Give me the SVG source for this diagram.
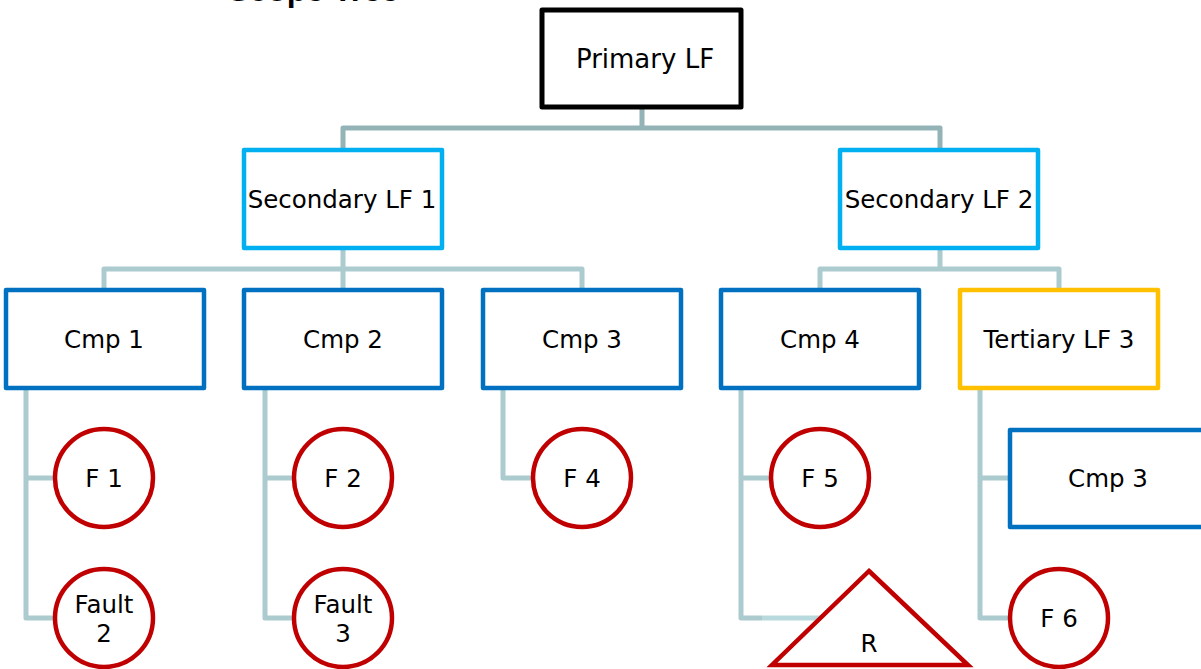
<svg xmlns="http://www.w3.org/2000/svg" width="1201" height="669" viewBox="0 0 1201 669">
  <style>
    .lbl { font-family: "DejaVu Sans", Verdana, sans-serif; font-size: 24.5px; fill: #000; text-anchor: middle; }
    .title { font-family: "Liberation Sans", Arial, sans-serif; font-size: 32px; font-weight: bold; fill: #000; }
    .box { fill: #fff; stroke-width: 4.5; stroke-linejoin: round; }
    .top { stroke: #000; stroke-width: 5; }
    .sec { stroke: #00b0f0; }
    .cmp { stroke: #0070c0; }
    .ter { stroke: #ffc000; }
    .fault { fill: #fff; stroke: #c00000; stroke-width: 4.5; }
    .l1 { fill: none; stroke: #94b3b6; stroke-width: 5; stroke-linejoin: round; }
    .l2 { fill: none; stroke: #accbcf; stroke-width: 5; stroke-linejoin: round; }
  </style>

  <text class="title" x="228" y="1">Scope Tree</text>

  <g id="connectors">
    <path class="l1" d="M642,107 V128 M343,150 V128 H940 V150"/>
    <path class="l2" d="M343,248 V269 M104,290 V269 H582 V290 M343,269 V290"/>
    <path class="l2" d="M940,248 V269 M820,290 V269 H1059 V290"/>
    <path class="l2" d="M26,388 V618 H56 M26,478 H56"/>
    <path class="l2" d="M265,388 V618 H295 M265,478 H295"/>
    <path class="l2" d="M503,388 V478 H533"/>
    <path class="l2" d="M741,388 V618 H762 M741,478 H771"/>
    <path d="M762,618 H820" fill="none" stroke="#b8dadf" stroke-width="5"/>
    <path class="l2" d="M980,388 V618 H1010 M980,478 H1010"/>
  </g>

  <g id="primary-lf">
    <rect class="box top" x="542" y="10" width="199" height="97"/>
    <text class="lbl" x="645" y="68" style="font-size:26px">Primary LF</text>
  </g>

  <g id="secondary-lf-1">
    <rect class="box sec" x="244" y="150" width="198" height="98"/>
    <text class="lbl" x="342" y="208">Secondary LF 1</text>
  </g>
  <g id="secondary-lf-2">
    <rect class="box sec" x="840" y="150" width="198" height="98"/>
    <text class="lbl" x="939" y="208">Secondary LF 2</text>
  </g>

  <g id="cmp-1">
    <rect class="box cmp" x="6" y="290" width="198" height="98"/>
    <text class="lbl" x="104" y="348">Cmp 1</text>
  </g>
  <g id="cmp-2">
    <rect class="box cmp" x="244" y="290" width="198" height="98"/>
    <text class="lbl" x="343" y="348">Cmp 2</text>
  </g>
  <g id="cmp-3">
    <rect class="box cmp" x="483" y="290" width="198" height="98"/>
    <text class="lbl" x="582" y="348">Cmp 3</text>
  </g>
  <g id="cmp-4">
    <rect class="box cmp" x="721" y="290" width="198" height="98"/>
    <text class="lbl" x="820" y="348">Cmp 4</text>
  </g>
  <g id="tertiary-lf-3">
    <rect class="box ter" x="960" y="290" width="198" height="98"/>
    <text class="lbl" x="1059" y="348">Tertiary LF 3</text>
  </g>
  <g id="cmp-3b">
    <rect class="box cmp" x="1010" y="430" width="200" height="97"/>
    <text class="lbl" x="1108" y="487">Cmp 3</text>
  </g>

  <g id="f1">
    <circle class="fault" cx="104" cy="478" r="49"/>
    <text class="lbl" x="104" y="487">F 1</text>
  </g>
  <g id="fault-2">
    <circle class="fault" cx="104" cy="618" r="49"/>
    <text class="lbl" x="104" y="613">Fault</text>
    <text class="lbl" x="104" y="642">2</text>
  </g>
  <g id="f2">
    <circle class="fault" cx="343" cy="478" r="49"/>
    <text class="lbl" x="343" y="487">F 2</text>
  </g>
  <g id="fault-3">
    <circle class="fault" cx="343" cy="618" r="49"/>
    <text class="lbl" x="343" y="613">Fault</text>
    <text class="lbl" x="343" y="642">3</text>
  </g>
  <g id="f4">
    <circle class="fault" cx="582" cy="478" r="49"/>
    <text class="lbl" x="582" y="487">F 4</text>
  </g>
  <g id="f5">
    <circle class="fault" cx="820" cy="478" r="49"/>
    <text class="lbl" x="820" y="487">F 5</text>
  </g>
  <g id="f6">
    <circle class="fault" cx="1059" cy="618" r="49"/>
    <text class="lbl" x="1059" y="627">F 6</text>
  </g>
  <g id="r">
    <polygon class="fault" points="869,571 968,665 772,665" stroke-linejoin="miter"/>
    <text class="lbl" x="869" y="652">R</text>
  </g>
</svg>
